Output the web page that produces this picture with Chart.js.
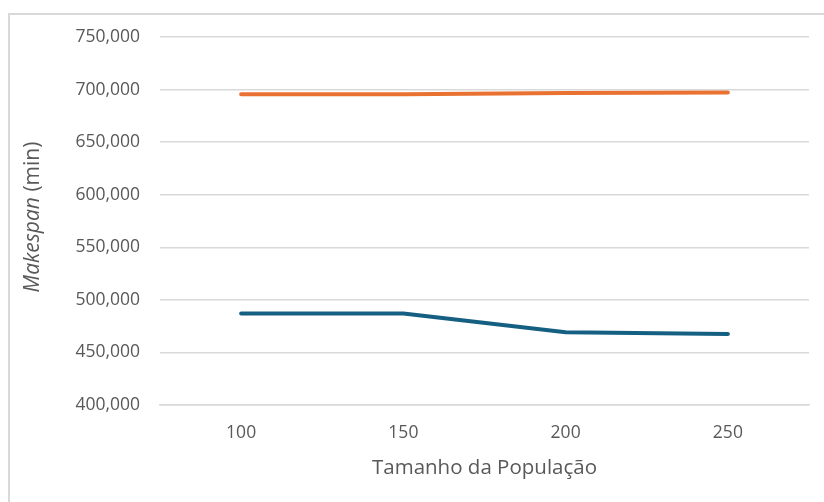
<!DOCTYPE html>
<html lang="pt">
<head>
<meta charset="utf-8">
<script src="https://cdn.jsdelivr.net/npm/chart.js@4/dist/chart.umd.min.js"></script>
<style>
  html, body { margin: 0; padding: 0; background: #ffffff; }
  #wrap { position: relative; width: 824px; height: 502px; overflow: hidden; background: #ffffff; }
  #frame { position: absolute; left: 8px; top: 13px; width: 840px; height: 520px;
           border-left: 2px solid #d9d9d9; border-top: 2px solid #d9d9d9; box-sizing: border-box; }
  #chart { position: absolute; left: 0; top: 0; }
</style>
</head>
<body>
<div id="wrap">
  <div id="frame"></div>
  <canvas id="chart" width="824" height="502"></canvas>
</div>
<script>
// Tamanho da população testado
const categories = ['100', '150', '200', '250'];
// Makespan (min) de cada série
const serieLaranja = [695.5, 695.5, 696.8, 697.1];
const serieAzul = [487.0, 487.0, 469.1, 467.5];
// Eixo vertical
const yMin = 400;
const yMax = 750;
const yStep = 50;

const textColor = '#595959';
const gridColor = '#d9d9d9';
const fontFamily = "'Open Sans', 'Liberation Sans', sans-serif";

const fmt = v => v.toFixed(3).replace('.', ',');

// Eixo Y com "Makespan" em itálico e "(min)" normal
const yTitlePlugin = {
  id: 'yTitleMixed',
  afterDraw(chart) {
    const { ctx, chartArea } = chart;
    const cy = (chartArea.top + chartArea.bottom) / 2 - 4;
    const cx = 33;
    ctx.save();
    ctx.translate(cx, cy);
    ctx.rotate(-Math.PI / 2);
    ctx.fillStyle = textColor;
    ctx.textBaseline = 'middle';
    const italic = 'italic 21px ' + fontFamily;
    const normal = '21px ' + fontFamily;
    const a = 'Makespan';
    const b = ' (min)';
    ctx.font = italic;
    const wa = ctx.measureText(a).width;
    ctx.font = normal;
    const wb = ctx.measureText(b).width;
    const start = -(wa + wb) / 2;
    ctx.textAlign = 'left';
    ctx.font = italic;
    ctx.fillText(a, start, 0);
    ctx.font = normal;
    ctx.fillText(b, start + wa, 0);
    ctx.restore();
  }
};

new Chart(document.getElementById('chart'), {
  type: 'line',
  data: {
    labels: categories,
    datasets: [
      {
        label: 'Série 1',
        data: serieLaranja,
        borderColor: '#E97132',
        backgroundColor: '#E97132',
        borderWidth: 4,
        pointRadius: 0,
        borderCapStyle: 'round',
        borderJoinStyle: 'round',
        tension: 0
      },
      {
        label: 'Série 2',
        data: serieAzul,
        borderColor: '#156082',
        backgroundColor: '#156082',
        borderWidth: 4,
        pointRadius: 0,
        borderCapStyle: 'round',
        borderJoinStyle: 'round',
        tension: 0
      }
    ]
  },
  options: {
    responsive: false,
    animation: false,
    devicePixelRatio: 1,
    layout: { padding: { left: 0, right: 15, top: 37, bottom: 0 } },
    plugins: {
      legend: { display: false },
      tooltip: { enabled: false }
    },
    scales: {
      x: {
        offset: true,
        grid: { display: false, drawTicks: false },
        border: { display: true, color: gridColor, width: 1.5 },
        ticks: { color: textColor, font: { family: fontFamily, size: 17.5 }, padding: 18 },
        title: {
          display: true,
          text: 'Tamanho da População',
          color: textColor,
          font: { family: fontFamily, size: 20.5 },
          padding: { top: 22, bottom: 22 }
        },
        afterFit(scale) { scale.height = 97; }
      },
      y: {
        min: yMin,
        max: yMax,
        grid: { color: gridColor, lineWidth: 1.5, drawTicks: false },
        border: { display: false },
        ticks: {
          stepSize: yStep,
          color: textColor,
          font: { family: fontFamily, size: 17.5 },
          padding: 20,
          callback: v => fmt(v)
        },
        afterFit(scale) { scale.width = 160; }
      }
    }
  },
  plugins: [yTitlePlugin]
});
</script>
</body>
</html>
